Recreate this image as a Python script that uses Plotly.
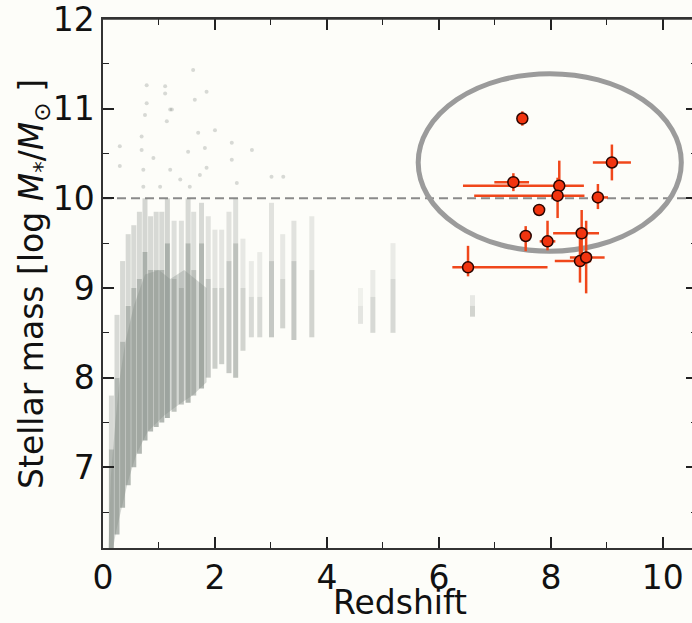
import plotly.graph_objects as go

# ---------------- data ----------------
# High-redshift galaxies (red points)
red_z      = [7.49, 9.09, 7.33, 8.15, 8.12, 8.84, 7.79, 7.55, 7.94, 8.55, 8.52, 8.63, 6.52]
red_mass   = [10.89, 10.40, 10.18, 10.14, 10.03, 10.01, 9.87, 9.58, 9.52, 9.61, 9.30, 9.34, 9.23]
red_z_lo   = [0.00, 0.34, 0.34, 1.72, 1.49, 0.11, 0.03, 0.09, 0.14, 0.51, 0.45, 0.29, 0.28]
red_z_hi   = [0.00, 0.34, 0.28, 0.44, 0.48, 0.18, 0.03, 0.09, 0.14, 0.31, 0.20, 0.33, 1.42]
red_m_lo   = [0.08, 0.20, 0.10, 0.15, 0.25, 0.13, 0.03, 0.17, 0.10, 0.30, 0.24, 0.40, 0.10]
red_m_hi   = [0.08, 0.20, 0.10, 0.28, 0.20, 0.15, 0.03, 0.11, 0.23, 0.26, 0.25, 0.41, 0.24]

# Background population: outline of its dense core (z, mass)
core_z = [0.10, 0.14, 0.22, 0.30, 0.40, 0.55, 0.75, 1.00, 1.20, 1.45, 1.65, 1.85,
          1.85, 1.60, 1.40, 1.10, 0.80, 0.60, 0.45, 0.33, 0.24, 0.18]
core_m = [6.10, 6.90, 7.50, 8.00, 8.40, 8.80, 9.15, 9.20, 9.10, 9.20, 9.10, 9.00,
          7.95, 7.80, 7.72, 7.58, 7.40, 7.15, 6.85, 6.55, 6.30, 6.10]

# Background population: vertical streaks at discrete redshifts
streak_z   = [0.15, 0.25, 0.35, 0.45, 0.55, 0.65, 0.75, 0.85, 0.95, 1.05, 1.15, 1.27,
              1.40, 1.52, 1.62, 1.76, 1.88, 2.00, 2.12, 2.25, 2.37, 2.50, 2.65, 2.80,
              3.01, 3.21, 3.41, 3.73, 4.60, 4.82, 5.18, 6.60]
streak_lo  = [6.10, 6.25, 6.55, 6.80, 7.00, 7.15, 7.30, 7.40, 7.45, 7.50, 7.55, 7.62,
              7.70, 7.72, 7.80, 7.88, 8.00, 8.10, 8.15, 8.05, 8.00, 8.30, 8.45, 8.45,
              8.45, 8.55, 8.42, 8.45, 8.60, 8.50, 8.50, 8.68]
streak_mid = [7.20, 8.00, 8.40, 8.80, 9.00, 9.10, 9.40, 9.20, 9.20, 9.20, 9.50, 9.10,
              9.00, 9.50, 9.20, 9.50, 9.10, 9.00, 9.00, 9.30, 9.50, 9.00, 8.90, 8.90,
              9.30, 9.10, 9.30, 9.20, 8.80, 8.90, 9.10, 8.80]
streak_hi  = [7.80, 8.70, 9.30, 9.60, 9.70, 9.85, 10.00, 9.80, 9.85, 9.85, 10.00, 9.75,
              9.75, 10.00, 9.85, 9.95, 9.80, 9.65, 9.65, 9.85, 10.00, 9.55, 9.30, 9.40,
              9.95, 9.60, 9.75, 9.80, 9.00, 9.20, 9.50, 8.92]
streak_alpha = [0.60, 0.60, 0.60, 0.60, 0.60, 0.60, 0.65, 0.60, 0.60, 0.60, 0.65, 0.50,
                0.50, 0.60, 0.50, 0.60, 0.45, 0.40, 0.40, 0.45, 0.50, 0.35, 0.30, 0.30,
                0.45, 0.35, 0.45, 0.35, 0.20, 0.30, 0.30, 0.35]

# Background population: sparse massive objects
sparse_z = [0.78, 1.11, 1.11, 1.61, 1.64, 1.85, 0.78, 1.20, 0.75, 1.14, 1.52, 0.69,
            0.69, 0.72, 1.20, 1.73, 1.85, 2.30, 2.30, 2.00, 1.70, 1.82, 0.90, 0.30,
            0.30, 3.01, 2.66, 2.39, 1.02, 1.38, 1.55, 0.72, 3.22, 1.23]
sparse_m = [11.26, 11.25, 11.17, 11.43, 11.10, 11.19, 11.06, 10.99, 10.93, 10.86, 10.52, 10.69,
            10.54, 10.32, 10.32, 10.26, 10.34, 10.43, 10.62, 10.76, 10.73, 10.56, 10.45, 10.58,
            10.36, 10.24, 10.54, 10.17, 10.13, 10.21, 10.13, 10.13, 10.24, 10.99]

x_ticks = [0, 2, 4, 6, 8, 10]
y_ticks = [7, 8, 9, 10, 11, 12]
mass_threshold = 10.0
ellipse_center = (7.98, 10.40)
ellipse_semi = (2.35, 0.99)

# ---------------- figure ----------------
GRAY = "128,136,130"
fig = go.Figure()

fig.add_trace(go.Scatter(x=core_z + [core_z[0]], y=core_m + [core_m[0]], mode="lines",
                         fill="toself", fillcolor=f"rgba({GRAY},0.32)",
                         line=dict(width=0), hoverinfo="skip", showlegend=False))
for z, lo, mid, hi, a in zip(streak_z, streak_lo, streak_mid, streak_hi, streak_alpha):
    fig.add_trace(go.Scatter(x=[z, z], y=[mid, hi], mode="lines",
                             line=dict(color=f"rgba({GRAY},{a * 0.5:.3f})", width=5),
                             hoverinfo="skip", showlegend=False))
    fig.add_trace(go.Scatter(x=[z, z], y=[lo, mid], mode="lines",
                             line=dict(color=f"rgba({GRAY},{a:.3f})", width=5),
                             hoverinfo="skip", showlegend=False))
fig.add_trace(go.Scatter(x=sparse_z, y=sparse_m, mode="markers",
                         marker=dict(color=f"rgba({GRAY},0.30)", size=4, line=dict(width=0)),
                         hoverinfo="skip", showlegend=False))

fig.add_trace(go.Scatter(
    x=red_z, y=red_mass, mode="markers",
    error_x=dict(type="data", symmetric=False, array=red_z_hi, arrayminus=red_z_lo,
                 color="#f0471b", thickness=2.5, width=0),
    error_y=dict(type="data", symmetric=False, array=red_m_hi, arrayminus=red_m_lo,
                 color="#f0471b", thickness=2.5, width=0),
    marker=dict(color="#f2340f", size=11, line=dict(color="#2a0500", width=1.5)),
    showlegend=False))

fig.add_shape(type="line", xref="paper", yref="y", x0=0, x1=1,
              y0=mass_threshold, y1=mass_threshold, layer="below",
              line=dict(color="#8a8a8a", width=2, dash="9px,5px"))
fig.add_shape(type="circle", xref="x", yref="y", layer="below",
              x0=ellipse_center[0] - ellipse_semi[0], x1=ellipse_center[0] + ellipse_semi[0],
              y0=ellipse_center[1] - ellipse_semi[1], y1=ellipse_center[1] + ellipse_semi[1],
              line=dict(color="#9b9b9b", width=5))
fig.add_shape(type="line", xref="paper", yref="paper", x0=0, x1=1, y0=1, y1=1,
              layer="above", line=dict(color="#333", width=1.5))

FONT = "DejaVu Sans"
FS = 33
axis_common = dict(ticks="inside", ticklen=11, tickwidth=1.5, tickcolor="#222",
                   showline=True, linecolor="#333", linewidth=1.5, mirror="ticks",
                   showgrid=False, zeroline=False, ticklabeloverflow="allow",
                   automargin=False,
                   tickfont=dict(family=FONT, size=FS, color="#111"))

# plot area at x 103..697 (right spine just outside the 692 px window) and y 19..548
PW = 594.0
PH = 529.0
fig.update_layout(
    width=697, height=623,
    margin=dict(l=103, r=0, t=19, b=75, autoexpand=False),
    paper_bgcolor="#fdfdf9", plot_bgcolor="#fdfdf9",
    xaxis=dict(range=[0, 10.61], tickvals=x_ticks,
               minor=dict(ticks="inside", ticklen=6, tickwidth=1.2, tickcolor="#222",
                          tick0=0, dtick=1),
               **axis_common),
    yaxis=dict(range=[6.1, 12.0], tickvals=y_ticks,
               minor=dict(ticks="inside", ticklen=6, tickwidth=1.2, tickcolor="#222",
                          tick0=7, dtick=0.5),
               **axis_common),
    annotations=[
        dict(text="Stellar mass [log <i>M</i><sub>*</sub>/<i>M</i><sub>⊙</sub> ]",
             xref="paper", yref="paper", x=(33 - 103) / PW, y=(548 - 284) / PH,
             xanchor="center", yanchor="middle", textangle=-90, showarrow=False,
             font=dict(family=FONT, size=FS, color="#111")),
        dict(text="Redshift", xref="paper", yref="paper",
             x=(400 - 103) / PW, y=(548 - 603) / PH,
             xanchor="center", yanchor="middle", showarrow=False,
             font=dict(family=FONT, size=FS, color="#111")),
    ],
)

# remove the browser's default body margin and scrollbars so the figure sits at the window origin
fig.write_html(
    "out.html",
    config={"displayModeBar": False},
    post_script=("document.body.style.margin='0px';"
                 "document.body.style.overflow='hidden';"
                 "document.documentElement.style.overflow='hidden';"),
)
